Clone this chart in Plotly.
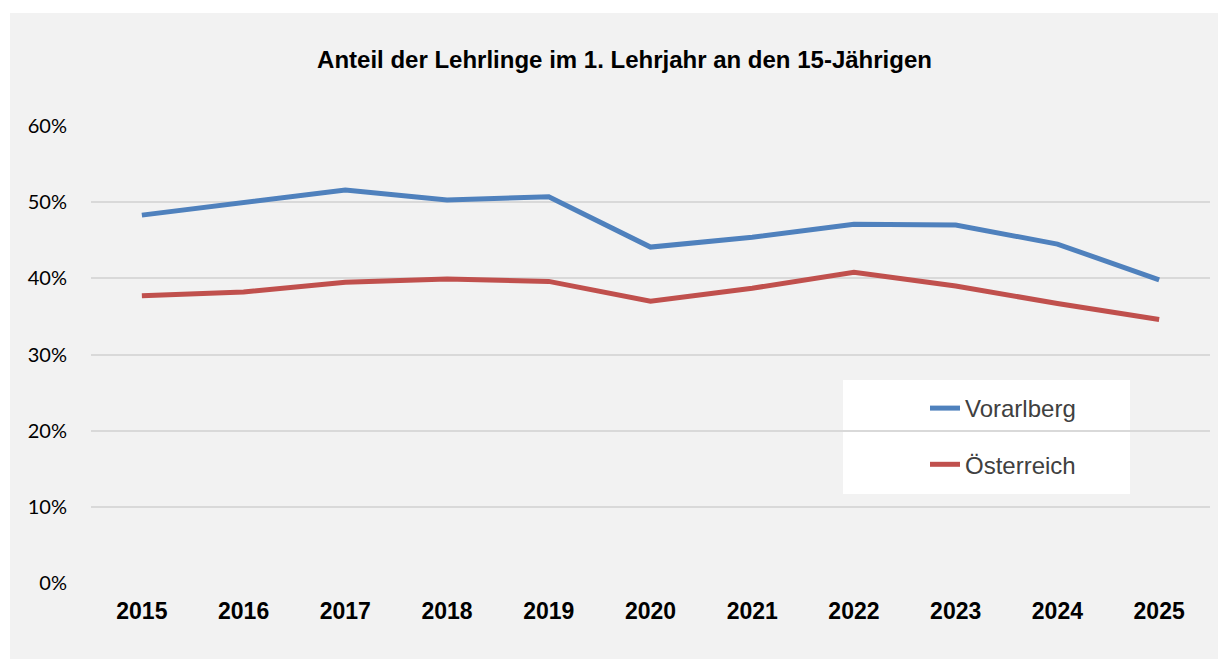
import plotly.graph_objects as go

years = ["2015", "2016", "2017", "2018", "2019", "2020", "2021", "2022", "2023", "2024", "2025"]
vorarlberg = [0.483, 0.500, 0.516, 0.503, 0.507, 0.441, 0.454, 0.471, 0.470, 0.445, 0.398]
oesterreich = [0.377, 0.382, 0.395, 0.399, 0.396, 0.370, 0.387, 0.408, 0.390, 0.367, 0.346]
y_ticks = [0, 0.1, 0.2, 0.3, 0.4, 0.5, 0.6]
y_labels = ["0%", "10%", "20%", "30%", "40%", "50%", "60%"]
title_text = "Anteil der Lehrlinge im 1. Lehrjahr an den 15-Jährigen"

# page body has an 8px margin; figure coordinates are screen coordinates minus 8
W, H = 1218, 651
L, R, T, B = 83, 16, 118, 76
PW, PH = W - L - R, H - T - B


def px(x):
    return (x - L) / PW


def py(y):
    return 1 - (y - T) / PH


fig = go.Figure()
fig.add_trace(go.Scatter(x=years, y=vorarlberg, mode="lines", name="Vorarlberg",
                         legendgroup="a",
                         line=dict(color="#4F81BD", width=5)))
fig.add_trace(go.Scatter(x=years, y=oesterreich, mode="lines", name="Österreich",
                         legendgroup="b",
                         line=dict(color="#C0504D", width=5)))

fig.update_layout(
    width=W, height=H,
    margin=dict(l=L, r=R, t=T, b=B),
    paper_bgcolor="white",
    plot_bgcolor="rgba(0,0,0,0)",
    title=dict(text="<b>" + title_text + "</b>", x=616.5 / W, xanchor="center",
               y=1 - 52 / H, yanchor="middle",
               font=dict(family="Liberation Sans, Arial", size=24, color="#000000")),
    showlegend=True,
    legend=dict(x=px(917), xanchor="left",
                y=py(378), yanchor="top",
                bgcolor="rgba(0,0,0,0)",
                font=dict(family="Liberation Sans, Arial", size=24, color="#404040"),
                traceorder="grouped", tracegroupgap=22),
    shapes=[
        dict(type="rect", xref="paper", yref="paper", layer="below",
             x0=px(2), x1=px(W + 2), y0=py(H + 2), y1=py(5),
             fillcolor="#F2F2F2", line=dict(width=0)),
        dict(type="rect", xref="paper", yref="paper", layer="below",
             x0=px(835), x1=px(1122), y0=py(486), y1=py(372),
             fillcolor="#FFFFFF", line=dict(width=0)),
    ],
)

fig.update_xaxes(type="category", range=[-0.5, 10.5], showgrid=False, zeroline=False,
                 showline=False, ticks="", ticklabelstandoff=12,
                 tickfont=dict(family="Liberation Sans, Arial", size=23, color="#000000"),
                 tickprefix="<b>", ticksuffix="</b>")
fig.update_yaxes(range=[0, 0.6], tickvals=y_ticks, ticktext=y_labels,
                 showgrid=True, gridcolor="#D9D9D9", gridwidth=1.5, zeroline=False,
                 showline=False, ticks="", ticklabelstandoff=23,
                 tickfont=dict(family="Lato, Carlito, Calibri, sans-serif", size=20, color="#000000"))

fig.write_html("out.html")
